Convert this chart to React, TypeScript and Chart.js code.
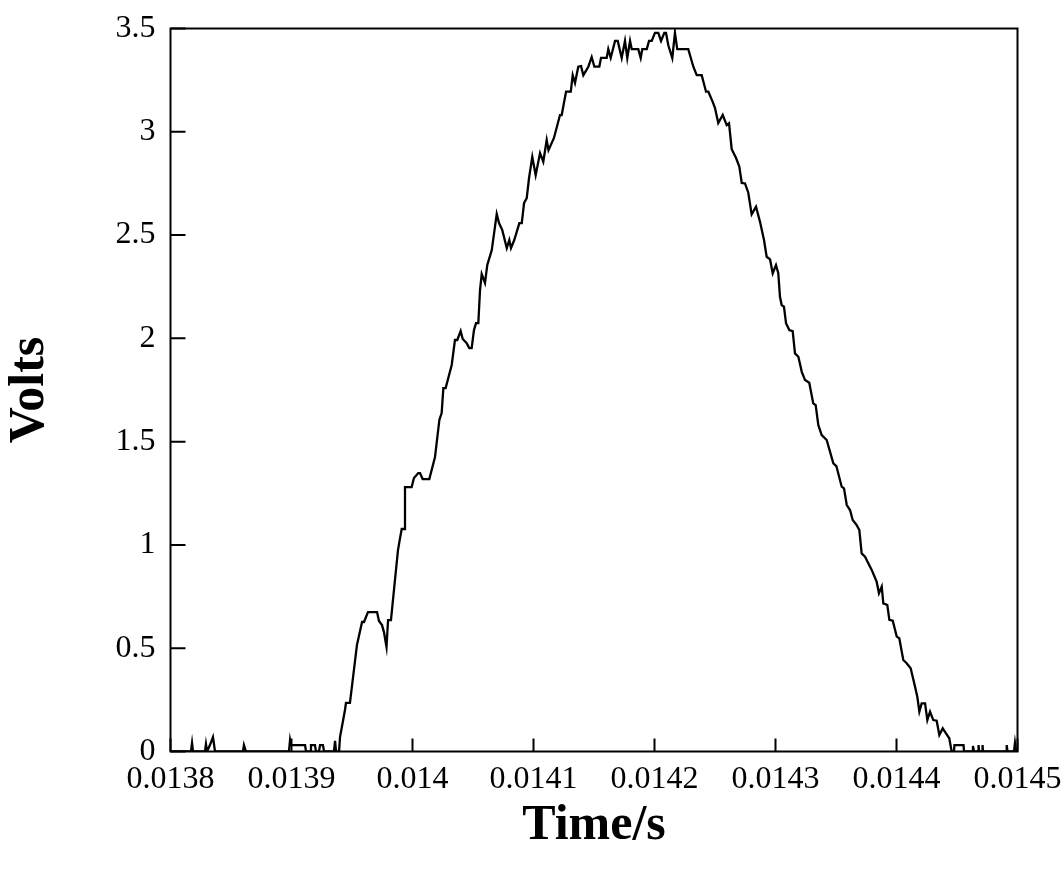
import React, { useEffect, useRef } from "react";
import { Chart, registerables } from "chart.js";

Chart.register(...registerables);

// Time (s) of each sample
const timeValues: number[] = [
  0.0138, 0.0138169, 0.0138178, 0.0138186, 0.0138285, 0.0138293, 0.0138302, 0.0138326, 0.0138351, 0.0138368,
  0.0138599, 0.0138607, 0.0138624, 0.0138979, 0.0138988, 0.0138996, 0.0139112, 0.013912, 0.0139153, 0.0139161,
  0.0139194, 0.0139202, 0.0139227, 0.0139236, 0.013926, 0.0139269, 0.0139351, 0.013936, 0.0139368, 0.0139393,
  0.0139401, 0.0139442, 0.013945, 0.0139483, 0.0139541, 0.0139583, 0.0139599, 0.0139632, 0.0139707, 0.0139723,
  0.0139748, 0.0139764, 0.0139785, 0.0139798, 0.0139822, 0.0139855, 0.013988, 0.0139897, 0.0139911, 0.013993,
  0.0139938, 0.0139993, 0.0140012, 0.0140048, 0.0140062, 0.0140084, 0.0140139, 0.0140186, 0.0140222, 0.0140241,
  0.0140255, 0.0140274, 0.0140324, 0.0140351, 0.014037, 0.0140398, 0.0140415, 0.0140448, 0.0140469, 0.0140489,
  0.0140508, 0.0140525, 0.0140544, 0.0140558, 0.0140572, 0.0140599, 0.0140618, 0.0140655, 0.0140696, 0.0140715,
  0.0140742, 0.0140779, 0.01408, 0.0140814, 0.0140841, 0.0140883, 0.0140903, 0.0140922, 0.0140944, 0.0140963,
  0.014099, 0.0141018, 0.0141054, 0.0141081, 0.0141109, 0.0141124, 0.0141169, 0.0141219, 0.0141233, 0.0141269,
  0.0141308, 0.0141324, 0.0141343, 0.014137, 0.0141393, 0.0141412, 0.0141453, 0.0141481, 0.0141503, 0.0141544,
  0.0141558, 0.0141605, 0.0141618, 0.0141638, 0.0141674, 0.0141696, 0.0141729, 0.0141756, 0.0141775, 0.0141798,
  0.0141812, 0.0141866, 0.0141886, 0.0141899, 0.0141936, 0.0141955, 0.0141977, 0.0142004, 0.0142031, 0.0142054,
  0.0142081, 0.0142095, 0.0142114, 0.0142147, 0.0142169, 0.0142188, 0.0142279, 0.0142321, 0.0142349, 0.014239,
  0.0142426, 0.0142445, 0.0142481, 0.01425, 0.0142527, 0.0142564, 0.0142597, 0.0142616, 0.0142638, 0.0142674,
  0.0142701, 0.0142721, 0.0142748, 0.0142775, 0.0142803, 0.0142839, 0.0142872, 0.0142905, 0.0142927, 0.0142955,
  0.0142977, 0.0143004, 0.0143023, 0.0143037, 0.0143051, 0.014307, 0.0143087, 0.0143114, 0.0143142, 0.0143161,
  0.0143189, 0.0143217, 0.0143244, 0.0143279, 0.0143312, 0.0143332, 0.0143354, 0.0143382, 0.0143423, 0.0143478,
  0.0143503, 0.0143547, 0.0143566, 0.0143589, 0.0143616, 0.0143638, 0.0143671, 0.0143693, 0.0143712, 0.014374,
  0.0143767, 0.0143795, 0.0143836, 0.0143855, 0.0143878, 0.0143891, 0.0143924, 0.0143941, 0.0143969, 0.0144002,
  0.0144023, 0.0144056, 0.0144084, 0.0144117, 0.0144153, 0.0144172, 0.0144189, 0.0144208, 0.0144236, 0.0144255,
  0.0144277, 0.0144304, 0.0144332, 0.0144354, 0.0144382, 0.0144409, 0.0144436, 0.0144456, 0.0144475, 0.0144479,
  0.0144554, 0.0144558, 0.0144624, 0.0144632, 0.0144641, 0.0144674, 0.0144678, 0.0144682, 0.0144707, 0.0144711,
  0.0144715, 0.0144905, 0.0144911, 0.0144917, 0.0144971, 0.0144979, 0.0144988, 0.0145,
];

// Voltage (V) of each sample
const voltValues: number[] = [
  0, 0, 0.041, 0, 0, 0.036, 0, 0.031, 0.07, 0,
  0, 0.031, 0, 0, 0.056, 0.031, 0.031, 0, 0, 0.031,
  0.031, 0, 0, 0.031, 0.031, 0, 0, 0.051, 0, 0,
  0.07, 0.201, 0.235, 0.235, 0.516, 0.627, 0.627, 0.675, 0.675, 0.632,
  0.612, 0.578, 0.506, 0.636, 0.636, 0.83, 0.975, 1.033, 1.077, 1.077,
  1.28, 1.28, 1.324, 1.348, 1.348, 1.319, 1.319, 1.425, 1.605, 1.638,
  1.759, 1.759, 1.871, 1.992, 1.992, 2.035, 1.997, 1.977, 1.953, 1.953,
  2.04, 2.074, 2.074, 2.234, 2.311, 2.268, 2.355, 2.427, 2.602, 2.558,
  2.524, 2.437, 2.476, 2.437, 2.476, 2.558, 2.558, 2.655, 2.679, 2.776,
  2.879, 2.79, 2.897, 2.855, 2.96, 2.911, 2.97, 3.081, 3.081, 3.194,
  3.194, 3.274, 3.236, 3.315, 3.318, 3.274, 3.315, 3.362, 3.315, 3.315,
  3.358, 3.358, 3.4, 3.358, 3.44, 3.44, 3.357, 3.44, 3.357, 3.44,
  3.4, 3.4, 3.357, 3.4, 3.4, 3.44, 3.44, 3.479, 3.479, 3.44,
  3.479, 3.479, 3.419, 3.357, 3.479, 3.4, 3.4, 3.315, 3.274, 3.274,
  3.194, 3.194, 3.145, 3.115, 3.042, 3.081, 3.032, 3.041, 2.916, 2.873,
  2.831, 2.752, 2.75, 2.705, 2.6, 2.637, 2.564, 2.476, 2.395, 2.382,
  2.315, 2.355, 2.315, 2.201, 2.161, 2.153, 2.073, 2.04, 2.035, 1.927,
  1.911, 1.838, 1.798, 1.785, 1.685, 1.677, 1.58, 1.532, 1.508, 1.395,
  1.382, 1.282, 1.274, 1.193, 1.169, 1.121, 1.096, 1.072, 0.959, 0.943,
  0.911, 0.879, 0.822, 0.766, 0.798, 0.717, 0.709, 0.637, 0.633, 0.556,
  0.548, 0.443, 0.427, 0.403, 0.314, 0.265, 0.193, 0.233, 0.233, 0.152,
  0.193, 0.152, 0.149, 0.08, 0.112, 0.088, 0.064, 0, 0, 0.031,
  0.031, 0, 0, 0.027, 0, 0, 0.031, 0, 0, 0.031,
  0, 0, 0.031, 0, 0, 0.041, 0, 0,
];

const xTickValues: number[] = [0.0138, 0.0139, 0.014, 0.0141, 0.0142, 0.0143, 0.0144, 0.0145];
const xTickLabels: string[] = ["0.0138", "0.0139", "0.014", "0.0141", "0.0142", "0.0143", "0.0144", "0.0145"];
const yTickValues: number[] = [0, 0.5, 1, 1.5, 2, 2.5, 3, 3.5];
const yTickLabels: string[] = ["0", "0.5", "1", "1.5", "2", "2.5", "3", "3.5"];

const FONT = "'Liberation Serif', 'Times New Roman', serif";

const framePlugin = {
  id: "frameAndTicks",
  afterDraw(chart: any) {
    const { ctx, chartArea } = chart;
    const xs = chart.scales.x;
    const ys = chart.scales.y;
    ctx.save();
    ctx.strokeStyle = "#000";
    ctx.lineWidth = 2;
    ctx.strokeRect(chartArea.left, chartArea.top, chartArea.right - chartArea.left, chartArea.bottom - chartArea.top);
    ctx.beginPath();
    xTickValues.forEach((v) => {
      const px = xs.getPixelForValue(v);
      ctx.moveTo(px, chartArea.bottom);
      ctx.lineTo(px, chartArea.bottom - 13);
    });
    yTickValues.forEach((v) => {
      const py = ys.getPixelForValue(v);
      ctx.moveTo(chartArea.left, py);
      ctx.lineTo(chartArea.left + 15, py);
    });
    ctx.stroke();
    ctx.restore();
  },
};

const zeroPadding = (scale: any) => {
  scale.paddingTop = 0;
  scale.paddingBottom = 0;
  scale.paddingLeft = 0;
  scale.paddingRight = 0;
};

export default function App() {
  const ref = useRef<HTMLCanvasElement | null>(null);

  useEffect(() => {
    if (!ref.current) return;
    const points = timeValues.map((t, i) => ({ x: t, y: voltValues[i] }));
    const chart = new Chart(ref.current, {
      type: "scatter",
      data: {
        datasets: [
          {
            data: points,
            showLine: true,
            borderColor: "#000",
            borderWidth: 2.3,
            pointRadius: 0,
            tension: 0,
            fill: false,
          },
        ],
      },
      options: {
        responsive: false,
        animation: false,
        layout: { padding: { top: 28.5, right: 46.5, left: 0, bottom: 0 } },
        plugins: { legend: { display: false }, tooltip: { enabled: false } },
        scales: {
          x: {
            type: "linear",
            min: 0.0138,
            max: 0.0145,
            afterBuildTicks: (scale: any) => {
              scale.ticks = xTickValues.map((v) => ({ value: v }));
            },
            afterFit: (scale: any) => {
              scale.height = 120.5;
              zeroPadding(scale);
            },
            grid: { display: false, drawTicks: false },
            border: { display: false },
            ticks: {
              autoSkip: false,
              maxRotation: 0,
              padding: 9,
              color: "#000",
              font: { family: FONT, size: 32 },
              callback: (_v: any, i: number) => xTickLabels[i],
            },
            title: {
              display: true,
              text: "Time/s",
              color: "#000",
              font: { family: FONT, size: 50, weight: "bold" },
              padding: { top: 0, bottom: 16 },
            },
          },
          y: {
            type: "linear",
            min: 0,
            max: 3.5,
            afterBuildTicks: (scale: any) => {
              scale.ticks = yTickValues.map((v) => ({ value: v }));
            },
            afterFit: (scale: any) => {
              scale.width = 170.5;
              zeroPadding(scale);
            },
            grid: { display: false, drawTicks: false },
            border: { display: false },
            ticks: {
              autoSkip: false,
              padding: 15,
              color: "#000",
              font: { family: FONT, size: 32 },
              callback: (_v: any, i: number) => yTickLabels[i],
            },
            title: {
              display: true,
              text: "Volts",
              color: "#000",
              font: { family: FONT, size: 50, weight: "bold" },
              padding: { top: 0, bottom: 0 },
            },
          },
        },
      },
      plugins: [framePlugin],
    });
    return () => chart.destroy();
  }, []);

  return (
    <div style={{ position: "absolute", left: 0, top: 0, width: 1064, height: 872, background: "#fff" }}>
      <canvas ref={ref} width={1064} height={872} style={{ width: 1064, height: 872 }} />
    </div>
  );
}
